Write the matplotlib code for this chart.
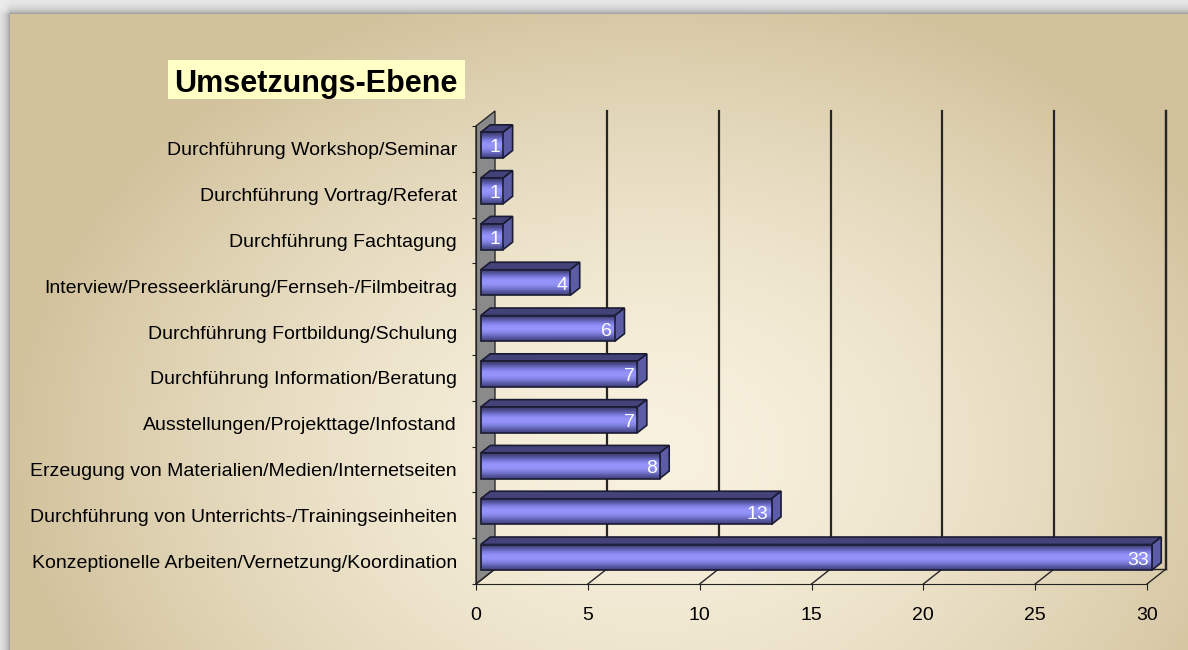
import numpy as np
import matplotlib.pyplot as plt
from matplotlib.patches import Polygon, Rectangle

# data, top to bottom as in the chart
categories = [
    "Durchführung Workshop/Seminar",
    "Durchführung Vortrag/Referat",
    "Durchführung Fachtagung",
    "Interview/Presseerklärung/Fernseh-/Filmbeitrag",
    "Durchführung Fortbildung/Schulung",
    "Durchführung Information/Beratung",
    "Ausstellungen/Projekttage/Infostand",
    "Erzeugung von Materialien/Medien/Internetseiten",
    "Durchführung von Unterrichts-/Trainingseinheiten",
    "Konzeptionelle Arbeiten/Vernetzung/Koordination",
]
values = [1, 1, 1, 4, 6, 7, 7, 8, 13, 33]
x_ticks = [0, 5, 10, 15, 20, 25, 30]
title = "Umsetzungs-Ebene"

plt.rcParams['font.family'] = ['Liberation Sans', 'DejaVu Sans']

W, H = 1188, 650
fig = plt.figure(figsize=(W / 100, H / 100), dpi=100)

# background: beige radial gradient + grey shadow frame
bg = fig.add_axes([0, 0, 1, 1], zorder=-10)
yy, xx = np.mgrid[0:H, 0:W]
t = np.sqrt(((xx - 650) / 640.0) ** 2 + ((yy - 450) / 480.0) ** 2)
t = np.clip(t, 0, 1) ** 1.6
c0 = np.array([248, 241, 222]) / 255
c1 = np.array([210, 194, 156]) / 255
img = c0 * (1 - t[..., None]) + c1 * t[..., None]
dist = np.maximum(10 - xx, 0) + np.maximum(14 - yy, 0)
g = 0.93 - 0.28 * np.exp(-(dist - 1) / 5.0)
outside = dist > 0
img[outside] = np.stack([g, g, g], axis=-1)[outside]
bg.imshow(img, aspect='auto', interpolation='bilinear')
bg.axis('off')

# main axes = front plane of the 3d chart
x0px, x1px, ybot, ytop = 476, 1147, 584, 126
ax = fig.add_axes([x0px / W, (H - ybot) / H, (x1px - x0px) / W, (ybot - ytop) / H])
ax.set_facecolor('none')
xmax = x_ticks[-1]
n = len(categories)
DX = 19 / ((x1px - x0px) / xmax)
DY = 15 / ((ybot - ytop) / n)

# left wall
ax.add_patch(Polygon([(0, 0), (DX, DY), (DX, n + DY), (0, n)], closed=True,
                     facecolor='#8a8a8a', edgecolor='#2a2a2a', lw=1, clip_on=False, zorder=1))
# back wall gridlines + floor
for v in x_ticks[1:]:
    ax.plot([v + DX, v + DX], [DY, n + DY], color='#262626', lw=1.6, clip_on=False, zorder=1)
for v in x_ticks:
    ax.plot([v, v + DX], [0, DY], color='#262626', lw=1, clip_on=False, zorder=1)
ax.plot([DX, xmax + DX], [DY, DY], color='#262626', lw=1, clip_on=False, zorder=1)

# bars
front = np.array([
    [62, 62, 112], [100, 100, 190], [140, 140, 245], [152, 152, 255],
    [140, 140, 240], [110, 110, 200], [70, 70, 130]]) / 255
grad = front[:, None, :]
f, dd, h = 0.25, 0.5, 0.56
gap = (1 - h) / 2
for k, (cat, v) in enumerate(zip(categories[::-1], values[::-1])):
    vv = min(v, xmax)
    bx0, bx1 = f * DX, vv + f * DX
    by0, by1 = k + gap + f * DY, k + 1 - gap + f * DY
    ex, ey = dd * DX, dd * DY
    ax.add_patch(Polygon([(bx0, by1), (bx1, by1), (bx1 + ex, by1 + ey), (bx0 + ex, by1 + ey)],
                         closed=True, facecolor='#43437a', edgecolor='#1a1a33', lw=1.2,
                         clip_on=False, zorder=3))
    ax.add_patch(Polygon([(bx1, by0), (bx1 + ex, by0 + ey), (bx1 + ex, by1 + ey), (bx1, by1)],
                         closed=True, facecolor='#5c5ca6', edgecolor='#1a1a33', lw=1.2,
                         clip_on=False, zorder=3))
    ax.imshow(grad, extent=[bx0, bx1, by0, by1], aspect='auto',
              interpolation='bicubic', zorder=3, clip_on=False)
    ax.add_patch(Rectangle((bx0, by0), bx1 - bx0, by1 - by0, facecolor='none',
                           edgecolor='#1a1a33', lw=1.2, zorder=4, clip_on=False))
    ax.annotate(str(v), xy=(bx1, (by0 + by1) / 2), xytext=(-2, -5.2),
                textcoords='offset points', ha='right', va='baseline',
                color='white', fontsize=14, zorder=5, annotation_clip=False)

ax.set_xlim(0, xmax)
ax.set_ylim(0, n)
ax.set_aspect('auto')

# right edge of box
ax.plot([xmax + DX, xmax + DX], [DY, n + DY], color='#262626', lw=1.6, clip_on=False, zorder=1)

for s in ['top', 'right']:
    ax.spines[s].set_visible(False)
for s in ['left', 'bottom']:
    ax.spines[s].set_color('#222222')
    ax.spines[s].set_zorder(2)

ax.set_xticks(x_ticks)
ax.tick_params(axis='x', length=4.3, pad=12, labelsize=14, color='#222222')
ax.set_yticks(range(n + 1))
ax.set_yticklabels([])
ax.set_yticks([k + 0.5 for k in range(n)], minor=True)
ax.set_yticklabels(categories[::-1], minor=True)
ax.tick_params(axis='y', which='major', length=2.9, color='#222222')
ax.tick_params(axis='y', which='minor', length=0, pad=13.7, labelsize=14)

# title box
fig.add_artist(Rectangle((168 / W, (H - 99) / H), 297 / W, 39 / H,
                         transform=fig.transFigure, facecolor='#ffffc6', edgecolor='none'))
fig.text(316 / W, (H - 92) / H, title, ha='center', va='baseline',
         fontsize=22, fontweight='bold', color='black')

fig.savefig('out.png', dpi=100)
